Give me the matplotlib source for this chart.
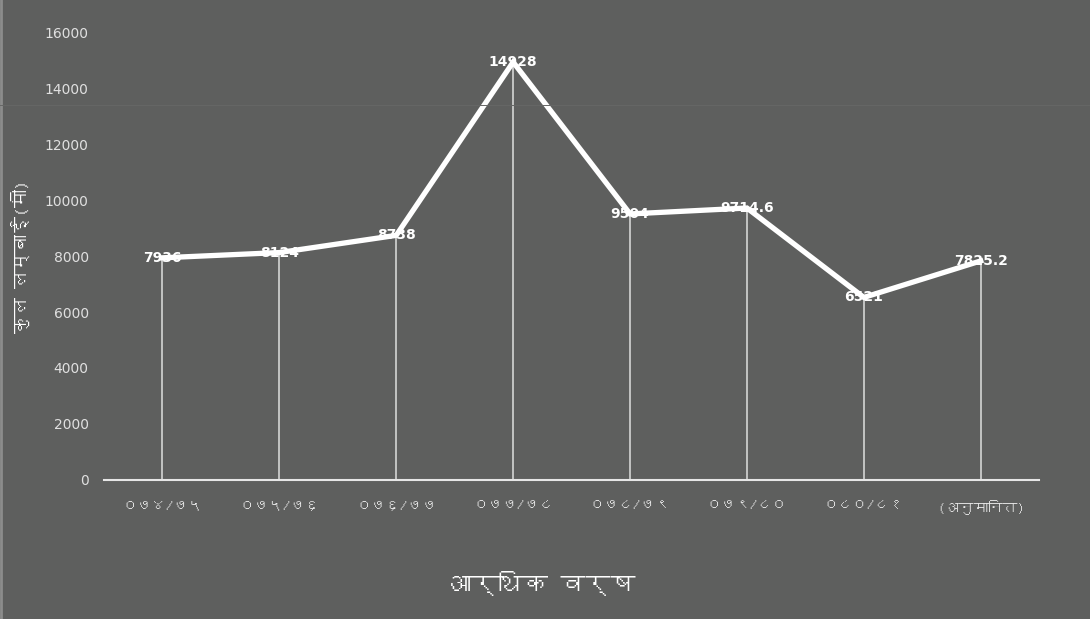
import matplotlib.pyplot as plt
from matplotlib import font_manager
from matplotlib.ft2font import FT2Font
from matplotlib.lines import Line2D

# आर्थिक वर्ष अनुसार कुल लम्बाई
years = ['०७४/७५', '०७५/७६', '०७६/७७', '०७७/७८', '०७८/७९', '०७९/८०', '०८०/८१', '(अनुमानित)']
length_m = [7936, 8124, 8738, 14928, 9504, 9714.6, 6521, 7825.2]
y_ticks = [0, 2000, 4000, 6000, 8000, 10000, 12000, 14000, 16000]


def find_devanagari_font():
    # देवनागरी अक्षर भएको फन्ट खोज्ने
    seen = set()
    for f in font_manager.fontManager.ttflist:
        if f.name in seen:
            continue
        seen.add(f.name)
        try:
            cmap = FT2Font(f.fname).get_charmap()
        except Exception:
            continue
        if ord('क') in cmap and ord('०') in cmap:
            return f.name
    return None


deva = find_devanagari_font()
families = ([deva] if deva else []) + ['DejaVu Sans']
plt.rcParams['font.family'] = families

bg = '#5e5f5e'
fig = plt.figure(figsize=(10.9, 6.19), dpi=100, facecolor=bg)
ax = fig.add_axes([0.0954, 0.2246, 0.858, 0.7236], facecolor=bg)

# किनारा र हल्का तेर्सो रेखा
fig.add_artist(Line2D([0.001, 0.001], [0, 1], color='#8c8c8c', lw=2.0))
fig.add_artist(Line2D([0, 1], [1 - 105 / 619] * 2, color='#666766', lw=0.7))

x = list(range(len(years)))
ax.vlines(x, 0, length_m, color='white', linewidth=1.1, alpha=0.8, zorder=1)
ax.plot(x, length_m, color='white', linewidth=3.8, solid_joinstyle='miter', zorder=2)

for xi, v in zip(x, length_m):
    ax.text(xi, v, f'{v:g}', color='white', fontsize=10, fontweight='bold',
            ha='center', va='center', zorder=3, family=['DejaVu Sans'])

ax.set_xlim(-0.5, len(years) - 0.5)
ax.set_ylim(0, 16000)
ax.set_yticks(y_ticks)
ax.set_yticklabels([str(t) for t in y_ticks], family=['DejaVu Sans'])
ax.set_xticks(x)
ax.set_xticklabels(years, fontweight='bold')

for s in ['top', 'right', 'left']:
    ax.spines[s].set_visible(False)
ax.spines['bottom'].set_color('#e6e6e6')
ax.spines['bottom'].set_linewidth(1.5)
ax.tick_params(axis='y', length=0, colors='#e0e0e0', labelsize=10, pad=11)
ax.tick_params(axis='x', length=0, colors='#e8e8e8', labelsize=10.5, pad=14)

ax.set_ylabel('कुल लम्बाई(मी)', color='white', fontsize=13, fontweight='bold')
ax.yaxis.set_label_coords(-0.079, 0.5)
fig.text(0.497, 0.058, 'आर्थिक वर्ष', color='white', fontsize=18, ha='center', va='center')

fig.savefig('out.png', dpi=100, facecolor=bg)
